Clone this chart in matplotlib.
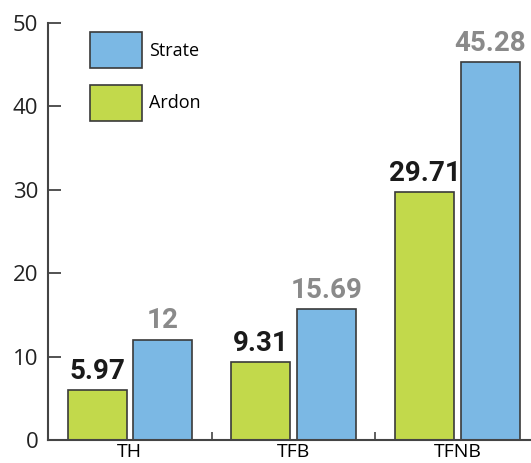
import matplotlib
matplotlib.use("Agg")
import matplotlib.pyplot as plt
import numpy as np
from matplotlib.ticker import FixedLocator

categories = ['TH', 'TFB', 'TFNB']
ardon = [5.97, 9.31, 29.71]
strate = [12, 15.69, 45.28]
ardon_labels = ['5.97', '9.31', '29.71']
strate_labels = ['12', '15.69', '45.28']

green = '#c2d94b'
blue = '#7bb8e4'
edge = '#3a3a3a'

fig = plt.figure(figsize=(5.31, 4.63), dpi=100)
ax = fig.add_axes([48 / 531, 23 / 463, 483 / 531, 417 / 463])

x = np.arange(len(categories))
w = 0.36
b_strate = ax.bar(x + 0.2, strate, w, color=blue, edgecolor=edge, linewidth=1.2, label='Strate')
b_ardon = ax.bar(x - 0.2, ardon, w, color=green, edgecolor=edge, linewidth=1.2, label='Ardon')

label_font = ['Roboto', 'DejaVu Sans']
for xi, v, t in zip(x, ardon, ardon_labels):
    ax.annotate(t, (xi - 0.2, v), xytext=(0, 4), textcoords='offset points',
                ha='center', va='bottom', fontsize=20, fontweight='bold',
                color='#1a1a1a', family=label_font)
for xi, v, t in zip(x, strate, strate_labels):
    ax.annotate(t, (xi + 0.2, v), xytext=(0, 4), textcoords='offset points',
                ha='center', va='bottom', fontsize=20, fontweight='bold',
                color='#8a8a8a', family=label_font)

ax.set_xlim(-0.5, 2.45)
ax.set_ylim(0, 50)
ax.set_yticks([0, 10, 20, 30, 40, 50])
ax.set_xticks(x)
ax.set_xticklabels(categories, family='Open Sans', fontsize=14)
ax.xaxis.set_minor_locator(FixedLocator([0.5, 1.5]))
ax.tick_params(axis='x', which='major', length=0, pad=2.5)
ax.tick_params(axis='x', which='minor', direction='in', length=6, width=1.2, color='#444444')
ax.tick_params(axis='y', direction='in', length=9, width=1.3, color='#444444', pad=7, labelsize=16)
for lab in ax.get_yticklabels():
    lab.set_family('Open Sans')
    lab.set_color('#222222')

for s in ['top', 'right']:
    ax.spines[s].set_visible(False)
for s in ['left', 'bottom']:
    ax.spines[s].set_color('#444444')
    ax.spines[s].set_linewidth(1.5)

ax.legend(handles=[b_strate, b_ardon], loc='upper left', bbox_to_anchor=(0.087, 0.978),
          frameon=False, borderpad=0, borderaxespad=0,
          handlelength=2.9, handleheight=2.7, labelspacing=0.9, handletextpad=0.35,
          prop={'family': 'Open Sans', 'size': 13})

fig.savefig('out.png', dpi=100)
